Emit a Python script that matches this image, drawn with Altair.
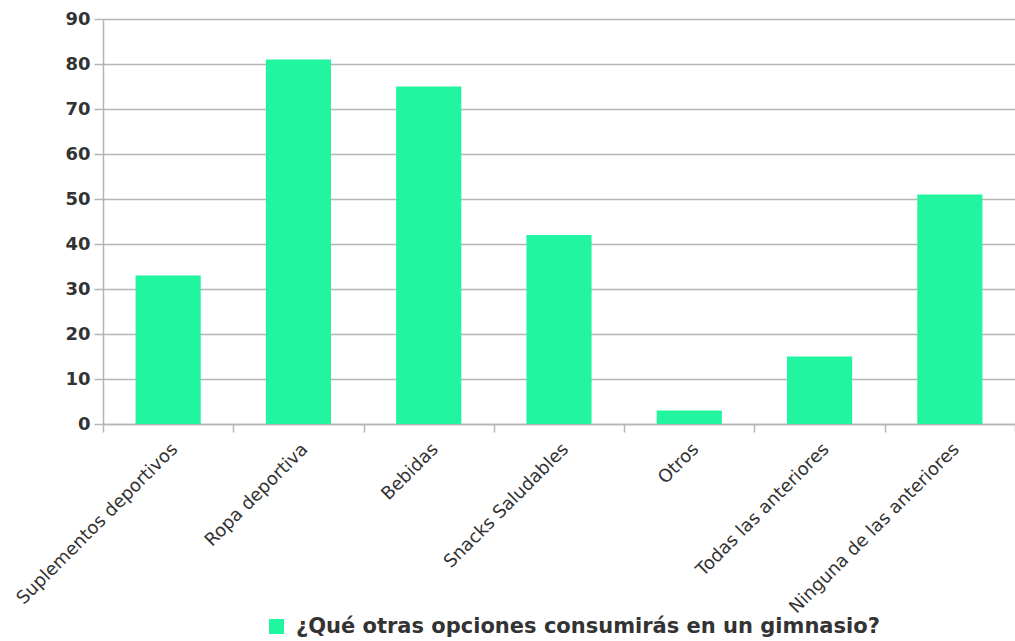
import altair as alt
import pandas as pd

# Survey answers: other options people would consume at a gym
categories = [
    "Suplementos deportivos",
    "Ropa deportiva",
    "Bebidas",
    "Snacks Saludables",
    "Otros",
    "Todas las anteriores",
    "Ninguna de las anteriores",
]
counts = [33, 81, 75, 42, 3, 15, 51]
series_name = "¿Qué otras opciones consumirás en un gimnasio?"
y_ticks = [0, 10, 20, 30, 40, 50, 60, 70, 80, 90]

df = pd.DataFrame({
    "categoria": categories,
    "respuestas": counts,
    "serie": [series_name] * len(categories),
})

AXIS_GRAY = "#b5b5b5"
TEXT = "#333333"

chart = (
    alt.Chart(df)
    .mark_bar(width=alt.RelativeBandSize(0.5))
    .encode(
        x=alt.X(
            "categoria:N",
            sort=categories,
            scale=alt.Scale(paddingInner=0, paddingOuter=0),
            axis=alt.Axis(
                title=None,
                labelAngle=-45,
                tickBand="extent",
                grid=False,
                domainColor=AXIS_GRAY,
                domainWidth=1.5,
                tickColor=AXIS_GRAY,
                tickWidth=1.5,
                tickSize=8,
                labelFont="DejaVu Sans",
                labelFontSize=18,
                labelColor=TEXT,
                labelPadding=8,
                labelLimit=0,
            ),
        ),
        y=alt.Y(
            "respuestas:Q",
            scale=alt.Scale(domain=[0, 90], nice=False),
            axis=alt.Axis(
                title=None,
                values=y_ticks,
                grid=True,
                gridColor=AXIS_GRAY,
                gridWidth=1.5,
                domainColor=AXIS_GRAY,
                domainWidth=1.5,
                tickColor=AXIS_GRAY,
                tickWidth=1.5,
                tickSize=9,
                labelFont="DejaVu Sans",
                labelFontSize=18,
                labelFontWeight="bold",
                labelColor=TEXT,
                labelPadding=4,
            ),
        ),
        color=alt.Color(
            "serie:N",
            scale=alt.Scale(range=["#22f5a0"]),
            legend=alt.Legend(
                title=None,
                orient="none",
                legendX=163,
                legendY=597,
                symbolType="square",
                symbolSize=225,
                symbolStrokeWidth=0,
                labelFont="DejaVu Sans",
                labelFontSize=21,
                labelFontWeight="bold",
                labelColor=TEXT,
                labelOffset=9,
                labelLimit=0,
            ),
        ),
    )
    .properties(
        width=912,
        height=405,
        padding={"left": 103, "top": 19, "right": 0, "bottom": 217},
        autosize="none",
        background="white",
    )
    .configure_view(stroke=None)
)

chart.save("out.html", embed_options={"renderer": "svg", "actions": False})
